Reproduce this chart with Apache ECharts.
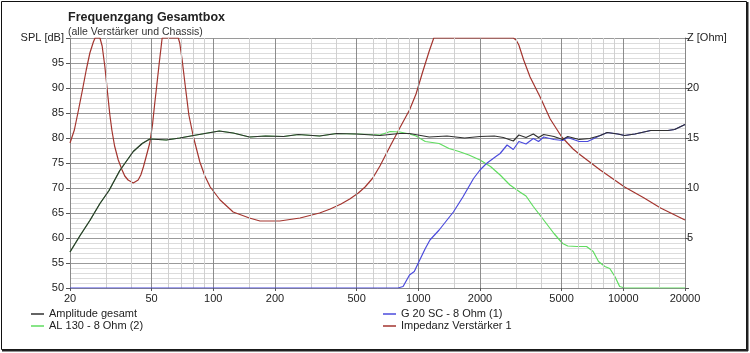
<!DOCTYPE html>
<html><head><meta charset="utf-8">
<script src="https://cdn.jsdelivr.net/npm/echarts@6/dist/echarts.min.js"></script>
<style>html,body{margin:0;padding:0;background:#fff}#c{width:750px;height:353px}</style>
</head><body><div id="c"></div>
<script>
// ---- data ----
const xLabels = [20, 50, 100, 200, 500, 1000, 2000, 5000, 10000, 20000];
const xMinorGrid = [30, 40, 60, 70, 80, 90, 150, 300, 400, 600, 700, 800, 900, 1500, 3000, 4000, 6000, 7000, 8000, 9000, 15000];
const xMajorGrid = [50, 100, 200, 500, 1000, 2000, 5000, 10000];

const ampFreq = [20,22.4,25,28,31,35,40.7,45,49,59,68.6,80,107,125,150,180,220,260,330,400,500,650,812,906,1131,1380,1683,2000,2350,2600,2908,3094,3353,3640,3860,4090,4590,5060,5360,6090,6860,7720,8350,9400,10150,11400,13600,16500,17800,20000];
const ampDb = [57.2,60.5,63.5,66.9,69.5,73.5,77.3,78.9,79.8,79.6,80,80.5,81.4,81,80.2,80.4,80.3,80.7,80.4,80.9,80.8,80.5,80.9,80.9,80.2,80.4,80,80.3,80.4,80.1,79.4,80.6,80.1,80.8,80.1,80.7,80.3,79.7,80.3,79.7,79.9,80.5,81.1,80.8,80.5,80.8,81.5,81.5,81.7,82.7];

const alFreq = [20,22.4,25,28,31,35,40.7,45,49,59,68.6,80,107,125,150,180,220,260,330,400,500,650,730,812,906,975,1082,1264,1412,1580,1765,2000,2250,2507,2800,3130,3353,3640,4090,4590,5060,5360,5930,6620,7130,7570,8130,8590,9100,9600,10150,20000];
const alDb = [57.2,60.5,63.5,66.9,69.5,73.5,77.3,78.9,79.8,79.6,80,80.5,81.4,81,80.2,80.4,80.3,80.7,80.4,80.9,80.8,80.6,81.3,81.2,80.8,80.4,79.3,78.9,77.9,77.3,76.6,75.6,74.3,72.6,70.6,69.2,68.4,66.3,63.6,60.9,58.9,58.4,58.3,58.3,57.3,55.3,54.3,53.9,52.3,50.3,50,50];

const g20Freq = [20,796,843,906,956,1008,1082,1140,1264,1483,1650,1860,2000,2150,2390,2507,2710,2908,3094,3353,3640,3860,4090,4590,5060,5360,6090,6700,7720,8350,9400,10150,11400,13600,16500,17800,20000];
const g20Db = [50,50,50.3,52.6,53.3,55.3,57.9,59.6,61.6,65.2,68.2,71.9,73.6,74.9,76.3,76.9,78.6,77.7,79.3,78.8,79.9,79.3,80.2,79.7,79.5,80.1,79.3,79.3,80.5,81.1,80.8,80.5,80.8,81.5,81.5,81.7,82.7];

const impFreq = [20,21,22,23,24,25,26,26.5,28,28.7,29.6,30.5,31.3,32,33,34.4,35.9,37,38.4,40.7,43,44.3,45.6,47,49,50.5,51.7,52.7,54.5,56.3,66,67.5,68.6,70.5,72.7,76,80,86,91,96.6,108,125,150,169,211,265,330,372,420,463,510,550,600,650,730,812,906,975,1050,1131,1190,2908,3000,3094,3266,3510,3930,4400,5010,5690,6090,7720,10150,12640,15200,20000];
const impOhm = [14.5,15.8,17.8,19.8,21.8,23.5,24.6,25,25,24.2,22.1,19.5,17.3,15.8,14.2,12.8,11.8,11.2,10.8,10.5,10.8,11.3,12.1,13.1,14.5,16.3,18.3,19.8,22.5,25,25,25,24.5,22.8,20.5,17.3,15.1,12.6,11.2,10.1,8.8,7.6,7.0,6.7,6.7,7.0,7.5,7.9,8.4,8.9,9.5,10.1,11.0,12.2,14.2,16.0,17.8,19.4,21.6,23.7,25,25,24.8,24.3,22.8,21.1,19.1,16.9,15.1,13.9,13.4,11.8,10.1,9.0,8.0,6.8];

const zip = (a, b) => a.map((v, i) => [v, b[i]]);

const chart = echarts.init(document.getElementById('c'), null, {renderer: 'canvas'});
const font = 'Liberation Sans, Arial, sans-serif';
const cBlack = '#303030', cGreen = '#5fdc5f', cBlue = '#4b4bdc', cRed = '#a3352f';

chart.setOption({
  animation: false,
  backgroundColor: '#fff',
  title: {
    text: 'Frequenzgang Gesamtbox',
    subtext: '(alle Verstärker und Chassis)',
    left: 63, top: 6, itemGap: 3,
    textStyle: {fontFamily: font, fontSize: 12.5, fontWeight: 'bold', color: '#222'},
    subtextStyle: {fontFamily: font, fontSize: 10.5, color: '#333'}
  },
  grid: {left: 70, right: 65, top: 38, bottom: 65},
  legend: [
    {left: 31, top: 308, padding: 0, orient: 'vertical', itemGap: 0, itemWidth: 13, itemHeight: 1.5, icon: 'rect',
     textStyle: {fontFamily: font, fontSize: 11, color: '#222', lineHeight: 12}, data: ['Amplitude gesamt', 'AL 130 - 8 Ohm (2)']},
    {left: 383, top: 308, padding: 0, orient: 'vertical', itemGap: 0, itemWidth: 13, itemHeight: 1.5, icon: 'rect',
     textStyle: {fontFamily: font, fontSize: 11, color: '#222', lineHeight: 12}, data: ['G 20 SC - 8 Ohm (1)', 'Impedanz Verstärker 1']}
  ],
  xAxis: {
    type: 'log', logBase: 10, min: 20, max: 20000,
    axisLine: {show: true, onZero: false, lineStyle: {color: '#888'}},
    axisTick: {show: true, customValues: xLabels, length: 3, lineStyle: {color: '#555'}},
    axisLabel: {customValues: xLabels, fontFamily: font, fontSize: 11, color: '#222', margin: 5, formatter: v => String(Math.round(v))},
    splitLine: {show: false}
  },
  yAxis: [
    {type: 'value', min: 50, max: 100, interval: 5, position: 'left',
     axisLine: {show: true, lineStyle: {color: '#888'}},
     axisTick: {show: true, length: 4, lineStyle: {color: '#555'}},
     axisLabel: {fontFamily: font, fontSize: 11, color: '#222', margin: 6, formatter: v => v === 100 ? 'SPL [dB]' : String(v)},
     splitLine: {show: true, lineStyle: {color: '#9a9a9a', width: 1}},
     minorTick: {show: false, splitNumber: 5},
     minorSplitLine: {show: true, lineStyle: {color: '#dcdcdc', width: 1}}
    },
    {type: 'value', min: 0, max: 25, interval: 5, position: 'right',
     axisLine: {show: true, lineStyle: {color: '#888'}},
     axisTick: {show: true, length: 4, lineStyle: {color: '#555'}},
     axisLabel: {fontFamily: font, fontSize: 11, color: '#222', margin: 2, formatter: v => v === 25 ? 'Z [Ohm]' : (v === 0 ? '' : String(v))},
     splitLine: {show: false}
    }
  ],
  series: [
    {name: 'grid', type: 'line', data: [], z: 1, silent: true,
     markLine: {silent: true, symbol: 'none', label: {show: false}, animation: false,
       data: xMinorGrid.map(v => ({xAxis: v, lineStyle: {color: '#d0d0d0', width: 1, type: 'solid'}}))
         .concat(xMajorGrid.map(v => ({xAxis: v, lineStyle: {color: '#8c8c8c', width: 1, type: 'solid'}})))}},
    {name: 'Impedanz Verstärker 1', type: 'line', yAxisIndex: 1, data: zip(impFreq, impOhm), showSymbol: false, z: 3,
     color: cRed, lineStyle: {color: cRed, width: 1.2}},
    {name: 'AL 130 - 8 Ohm (2)', type: 'line', data: zip(alFreq, alDb), showSymbol: false, z: 4,
     color: cGreen, lineStyle: {color: cGreen, width: 1.2}},
    {name: 'G 20 SC - 8 Ohm (1)', type: 'line', data: zip(g20Freq, g20Db), showSymbol: false, z: 5,
     color: cBlue, lineStyle: {color: cBlue, width: 1.2}},
    {name: 'Amplitude gesamt', type: 'line', data: zip(ampFreq, ampDb), showSymbol: false, z: 6,
     color: cBlack, lineStyle: {color: cBlack, width: 1.2}}
  ],
  graphic: [
    {type: 'rect', shape: {x: 1.5, y: 1.5, width: 745, height: 348}, style: {fill: 'none', stroke: '#111', lineWidth: 1}, z: 10},
    {type: 'line', shape: {x1: 747.5, y1: 2, x2: 747.5, y2: 351}, style: {stroke: '#222', lineWidth: 2}, z: 10},
    {type: 'line', shape: {x1: 2, y1: 350.5, x2: 748, y2: 350.5}, style: {stroke: '#222', lineWidth: 2}, z: 10}
  ]
});
</script></body></html>
